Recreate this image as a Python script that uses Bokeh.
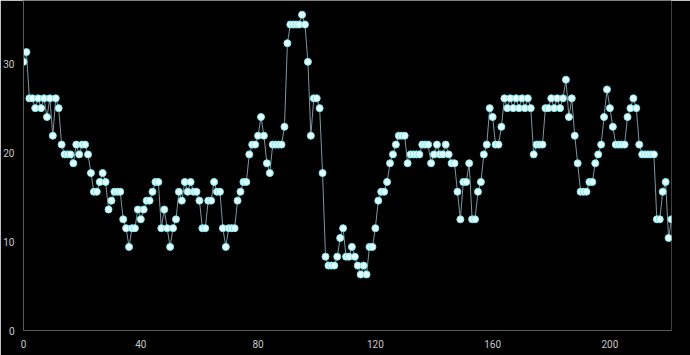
from bokeh.plotting import figure
from bokeh.models import ColumnDataSource, Range1d, FixedTicker
from bokeh.embed import file_html
from bokeh.resources import INLINE

values = [
    30.2, 31.3, 26.1, 26.1, 25.0, 26.1, 25.0, 26.1, 24.0, 26.1,
    21.9, 26.1, 25.0, 20.9, 19.8, 19.8, 19.8, 18.8, 20.9, 19.8,
    20.9, 20.9, 19.8, 17.7, 15.6, 15.6, 16.7, 17.7, 16.7, 13.6,
    14.6, 15.6, 15.6, 15.6, 12.5, 11.5, 9.4, 11.5, 11.5, 13.6,
    12.5, 13.6, 14.6, 14.6, 15.6, 16.7, 16.7, 11.5, 13.6, 11.5,
    9.4, 11.5, 12.5, 15.6, 14.6, 16.7, 15.6, 16.7, 15.6, 15.6,
    14.6, 11.5, 11.5, 14.6, 14.6, 16.7, 15.6, 15.6, 11.5, 9.4,
    11.5, 11.5, 11.5, 14.6, 15.6, 16.7, 16.7, 19.8, 20.9, 20.9,
    21.9, 24.0, 21.9, 18.8, 17.7, 20.9, 20.9, 20.9, 20.9, 22.9,
    32.3, 34.4, 34.4, 34.4, 34.4, 35.5, 34.4, 30.2, 21.9, 26.1,
    26.1, 25.0, 17.7, 8.3, 7.3, 7.3, 7.3, 8.3, 10.4, 11.5,
    8.3, 8.3, 9.4, 8.3, 7.3, 6.3, 7.3, 6.3, 9.4, 9.4,
    11.5, 14.6, 15.6, 15.6, 16.7, 18.8, 19.8, 20.9, 21.9, 21.9,
    21.9, 18.8, 19.8, 19.8, 19.8, 19.8, 20.9, 20.9, 20.9, 18.8,
    19.8, 20.9, 19.8, 19.8, 20.9, 19.8, 18.8, 18.8, 15.6, 12.5,
    16.7, 16.7, 18.8, 12.5, 12.5, 15.6, 16.7, 19.8, 20.9, 25.0,
    24.0, 20.9, 20.9, 22.9, 26.1, 25.0, 26.1, 25.0, 26.1, 25.0,
    26.1, 25.0, 26.1, 25.0, 19.8, 20.9, 20.9, 20.9, 25.0, 25.0,
    26.1, 25.0, 26.1, 25.0, 26.1, 28.2, 24.0, 26.1, 21.9, 18.8,
    15.6, 15.6, 15.6, 16.7, 16.7, 18.8, 19.8, 20.9, 24.0, 27.1,
    25.0, 22.9, 20.9, 20.9, 20.9, 20.9, 24.0, 25.0, 26.1, 25.0,
    20.9, 19.8, 19.8, 19.8, 19.8, 19.8, 12.5, 12.5, 15.6, 16.7,
    10.4, 12.5,
]
x_values = list(range(len(values)))
x_ticks = [0, 40, 80, 120, 160, 200]
y_ticks = [0, 10, 20, 30]

src = ColumnDataSource(data=dict(x=x_values, y=values))

p = figure(width=690, height=355, output_backend="svg", toolbar_location=None,
           x_range=Range1d(0, 221), y_range=Range1d(0, 37.1),
           background_fill_color="black", border_fill_color="black",
           min_border_left=23, min_border_right=19, min_border_top=0, min_border_bottom=25)
p.outline_line_color = None
p.xgrid.visible = False
p.ygrid.visible = False

for ax in (p.xaxis[0], p.yaxis[0]):
    ax.axis_line_color = "#5a5a5a"
    ax.axis_line_width = 1
    ax.major_tick_line_color = None
    ax.minor_tick_line_color = None
    ax.major_label_text_color = "#c8c8c8"
    ax.major_label_text_font = "Roboto"
    ax.major_label_text_font_size = "10px"
    ax.major_label_standoff = 3
p.xaxis.ticker = FixedTicker(ticks=x_ticks)
p.yaxis.ticker = FixedTicker(ticks=y_ticks)

p.line("x", "y", source=src, line_color="#7d97a0", line_width=1)
p.scatter("x", "y", source=src, size=7, fill_color="#e6ffff", line_color="#7fe8f0", line_width=1)

html = file_html(p, INLINE)
html = html.replace("<body>", '<body style="margin:0;background:black;">', 1)
open("out.html", "w").write(html)
